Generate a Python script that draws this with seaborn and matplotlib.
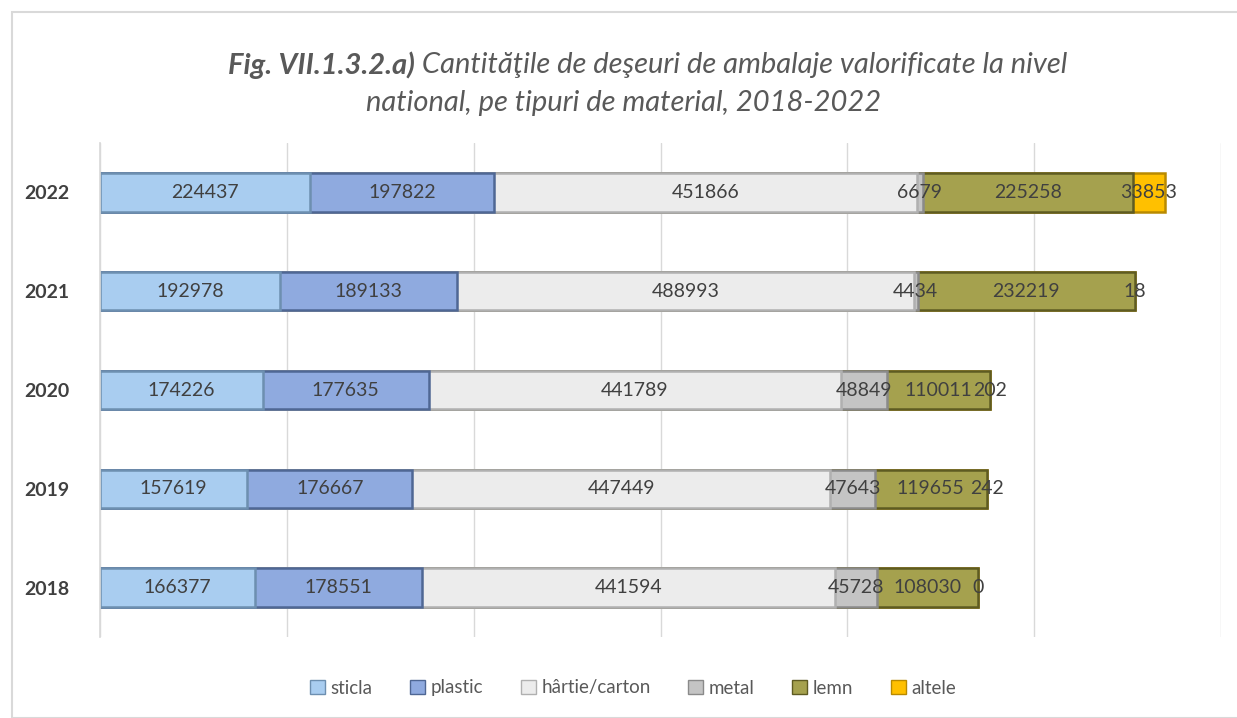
import matplotlib
matplotlib.use('Agg')
import matplotlib.pyplot as plt
from matplotlib.patches import Patch, Rectangle
import seaborn as sns
import numpy as np
import pandas as pd

years = ['2022', '2021', '2020', '2019', '2018']
materials = ['sticla', 'plastic', 'hârtie/carton', 'metal', 'lemn', 'altele']

sticla = [224437, 192978, 174226, 157619, 166377]
plastic = [197822, 189133, 177635, 176667, 178551]
hartie = [451866, 488993, 441789, 447449, 441594]
metal = [6679, 4434, 48849, 47643, 45728]
lemn = [225258, 232219, 110011, 119655, 108030]
altele = [33853, 18, 202, 242, 0]

colors = ['#a9cdf0', '#8faadf', '#ececec', '#c4c4c4', '#a5a14e', '#ffc000']
edges = ['#6d8fb0', '#4f6794', '#b0b0b0', '#8a8a8a', '#5e5b22', '#b98a00']

sns.set_theme(style='white')
plt.rcParams['font.family'] = ['Lato', 'DejaVu Sans']

df = pd.DataFrame({'year': years, 'sticla': sticla, 'plastic': plastic,
                   'hârtie/carton': hartie, 'metal': metal, 'lemn': lemn,
                   'altele': altele})
cum = df[materials].cumsum(axis=1)

fig = plt.figure(figsize=(12.37, 7.18), dpi=100)
ax = fig.add_axes([100 / 1237, 1 - 637 / 718, 1121 / 1237, 494 / 718])

# draw from the widest cumulative layer down so each one covers the next
for i in range(len(materials) - 1, -1, -1):
    sns.barplot(x=cum[materials[i]], y=df['year'], order=years, orient='h',
                color=colors[i], edgecolor=edges[i], linewidth=1.8,
                width=0.39, saturation=1, ax=ax)

for i, m in enumerate(materials):
    for j, y in enumerate(years):
        v = df[m][j]
        ax.text(cum[m][j] - v / 2, j, str(v), ha='center', va='center',
                fontsize=14, color='#404040')

ax.set_xlim(0, 1200000)
ax.set_ylim(4.5, -0.5)
ax.set_xticks(np.arange(0, 1200001, 200000))
ax.set_xticklabels([])
ax.tick_params(axis='x', length=0)
ax.xaxis.grid(True, color='#d9d9d9', linewidth=1)
ax.set_axisbelow(True)
ax.set_xlabel('')
ax.set_ylabel('')
for s in ['top', 'right', 'bottom']:
    ax.spines[s].set_visible(False)
ax.spines['left'].set_color('#d9d9d9')
ax.set_yticks(range(len(years)))
ax.set_yticklabels(years, fontsize=14, fontweight='bold', color='#404040')
ax.tick_params(axis='y', length=0, pad=22)
ax.set_yticks(np.arange(-0.5, 5, 1), minor=True)
ax.tick_params(axis='y', which='minor', length=6, color='#d9d9d9', width=1)

handles = [Patch(facecolor=colors[i], edgecolor=edges[i], label=materials[i])
           for i in range(len(materials))]
fig.legend(handles=handles, loc='center', bbox_to_anchor=(0.512, 1 - 688 / 718),
           ncol=6, frameon=False, fontsize=13.5, handlelength=0.8,
           handleheight=0.8, handletextpad=0.3, columnspacing=2.0,
           labelcolor='#595959')

# chart frame
fig.add_artist(Rectangle((12 / 1237, 0), 1, 1 - 12 / 718, transform=fig.transFigure,
                         fill=False, edgecolor='#d9d9d9', linewidth=1.5))

# title with bold lead
renderer = fig.canvas.get_renderer()
t_style = dict(fontsize=21, color='#595959', style='italic', va='center')
bold = fig.text(0, 1 - 65 / 718, 'Fig. VII.1.3.2.a)', fontweight='bold', **t_style)
rest = fig.text(0, 1 - 65 / 718,
                ' Cantităţile de deşeuri de ambalaje valorificate la nivel', **t_style)
wb = bold.get_window_extent(renderer).width
wr = rest.get_window_extent(renderer).width
x0 = 648 - (wb + wr) / 2
bold.set_x(x0 / 1237)
rest.set_x((x0 + wb) / 1237)
fig.text(624 / 1237, 1 - 103 / 718, 'national, pe tipuri de material, 2018-2022',
         ha='center', **t_style)

fig.savefig('out.png', dpi=100)
